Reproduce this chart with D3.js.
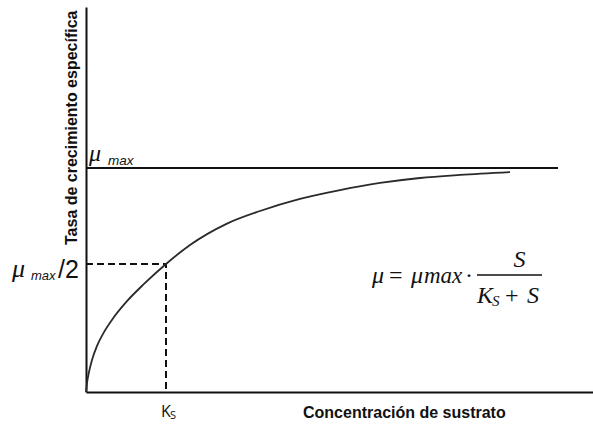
<!DOCTYPE html>
<html>
<head>
<meta charset="utf-8">
<script src="https://cdn.jsdelivr.net/npm/d3@7"></script>
<style>
  html, body { margin: 0; padding: 0; background: #fff; }
  svg { display: block; }
</style>
</head>
<body>
<svg id="chart" width="593" height="425"></svg>
<script>
// Substrate concentration S, in units of Ks
const substrate = [0, 0.0125, 0.0375, 0.075, 0.1375, 0.225, 0.35, 0.5125, 0.725, 1.0,
                   1.3, 1.75, 2.175, 2.675, 3.175, 3.675, 4.175, 4.675, 5.3];
// Specific growth rate, in units of mu_max
const growthRate = [0, 0.035, 0.078, 0.125, 0.18, 0.234, 0.293, 0.355, 0.422, 0.5,
                    0.599, 0.708, 0.776, 0.839, 0.885, 0.922, 0.948, 0.964, 0.979];
// Reference levels
const muMax = 1;
const halfMuMax = 0.5;
const ksValue = 1;
const xLabel = "Concentración de sustrato";
const yLabel = "Tasa de crecimiento específica";

const svg = d3.select("#chart");

const x = d3.scaleLinear().domain([0, 6.3375]).range([86, 593]);
// schematic (piecewise) vertical scale
const y = d3.scaleLinear().domain([0, 0.5, 1, 1.84]).range([392, 264, 168, 7]);

// axes: plain lines only
const xAxis = svg.append("g").attr("transform", `translate(0,${y(0)})`)
  .call(d3.axisBottom(x).tickValues([]).tickSizeOuter(0));
const yAxis = svg.append("g").attr("transform", `translate(${x(0)},0)`)
  .call(d3.axisLeft(y).tickValues([]).tickSizeOuter(0));
[xAxis, yAxis].forEach(g => g.select(".domain")
  .attr("stroke", "#111").attr("stroke-width", 2));

// mu_max asymptote
svg.append("line")
  .attr("x1", x(0)).attr("x2", 558)
  .attr("y1", y(muMax)).attr("y2", y(muMax))
  .attr("stroke", "#111").attr("stroke-width", 1.8);

// dashed guides at Ks, mu_max/2
svg.append("path")
  .attr("d", `M${x(0)},${y(halfMuMax)}H${x(ksValue)}V${y(0)}`)
  .attr("fill", "none").attr("stroke", "#111").attr("stroke-width", 2)
  .attr("stroke-dasharray", "7,4");

// Monod curve
const pts = substrate.map((s, i) => [s, growthRate[i]]);
svg.append("path")
  .datum(pts)
  .attr("d", d3.line().x(d => x(d[0])).y(d => y(d[1])).curve(d3.curveMonotoneX))
  .attr("fill", "none").attr("stroke", "#2a2a2a").attr("stroke-width", 1.8);

// axis titles
svg.append("text")
  .attr("x", 303).attr("y", 418)
  .attr("font-family", "Liberation Sans, Arial, sans-serif")
  .attr("font-weight", "bold").attr("font-size", 16)
  .attr("fill", "#111")
  .text(xLabel);

svg.append("text")
  .attr("transform", "translate(77,245) rotate(-90)")
  .attr("font-family", "Liberation Sans, Arial, sans-serif")
  .attr("font-weight", "bold").attr("font-size", 16)
  .attr("fill", "#111")
  .text(yLabel);

const serifIt = sel => sel.attr("font-family", "Liberation Serif, serif")
  .attr("font-style", "italic").attr("fill", "#111");
const sansIt = sel => sel.attr("font-family", "Liberation Sans, sans-serif")
  .attr("font-style", "italic").attr("fill", "#111");

// mu_max label
svg.append("text").attr("x", 89).attr("y", 161).attr("font-size", 24).call(serifIt).text("μ");
svg.append("text").attr("x", 108).attr("y", 165).attr("font-size", 13.5).call(sansIt).text("max");

// mu_max/2 label
svg.append("text").attr("x", 12).attr("y", 277).attr("font-size", 26).call(serifIt).text("μ");
svg.append("text").attr("x", 31).attr("y", 280).attr("font-size", 13).call(sansIt).text("max");
svg.append("text").attr("x", 58).attr("y", 278).attr("font-size", 25)
  .attr("font-family", "Liberation Sans, sans-serif").attr("fill", "#111").text("/2");

// Ks label
svg.append("text").attr("x", 161).attr("y", 417).attr("font-size", 16)
  .attr("font-family", "Open Sans, sans-serif").attr("fill", "#111").text("K");
svg.append("text").attr("x", 170).attr("y", 419).attr("font-size", 11)
  .attr("font-family", "Open Sans, sans-serif").attr("fill", "#111").text("S");

// Monod equation
const eq = svg.append("g").attr("font-size", 24);
eq.append("text").attr("x", 372).attr("y", 283).call(serifIt).text("μ");
eq.append("text").attr("x", 389).attr("y", 283).attr("font-family", "Liberation Serif, serif")
  .attr("fill", "#111").text("=");
eq.append("text").attr("x", 411).attr("y", 283).call(serifIt).text("μ");
eq.append("text").attr("x", 424).attr("y", 283).attr("font-size", 23).call(serifIt).text("max");
eq.append("text").attr("x", 465).attr("y", 283).attr("font-family", "Liberation Serif, serif")
  .attr("fill", "#111").text("·");
eq.append("line").attr("x1", 477).attr("x2", 542).attr("y1", 275).attr("y2", 275)
  .attr("stroke", "#111").attr("stroke-width", 1.3);
eq.append("text").attr("x", 519.5).attr("y", 267).attr("text-anchor", "middle").call(serifIt).text("S");
eq.append("text").attr("x", 477).attr("y", 303).call(serifIt).text("K");
eq.append("text").attr("x", 492).attr("y", 306).attr("font-size", 15).call(serifIt).text("S");
eq.append("text").attr("x", 505).attr("y", 303).attr("font-family", "Liberation Serif, serif")
  .attr("fill", "#111").text("+");
eq.append("text").attr("x", 527).attr("y", 303).call(serifIt).text("S");
</script>
</body>
</html>
